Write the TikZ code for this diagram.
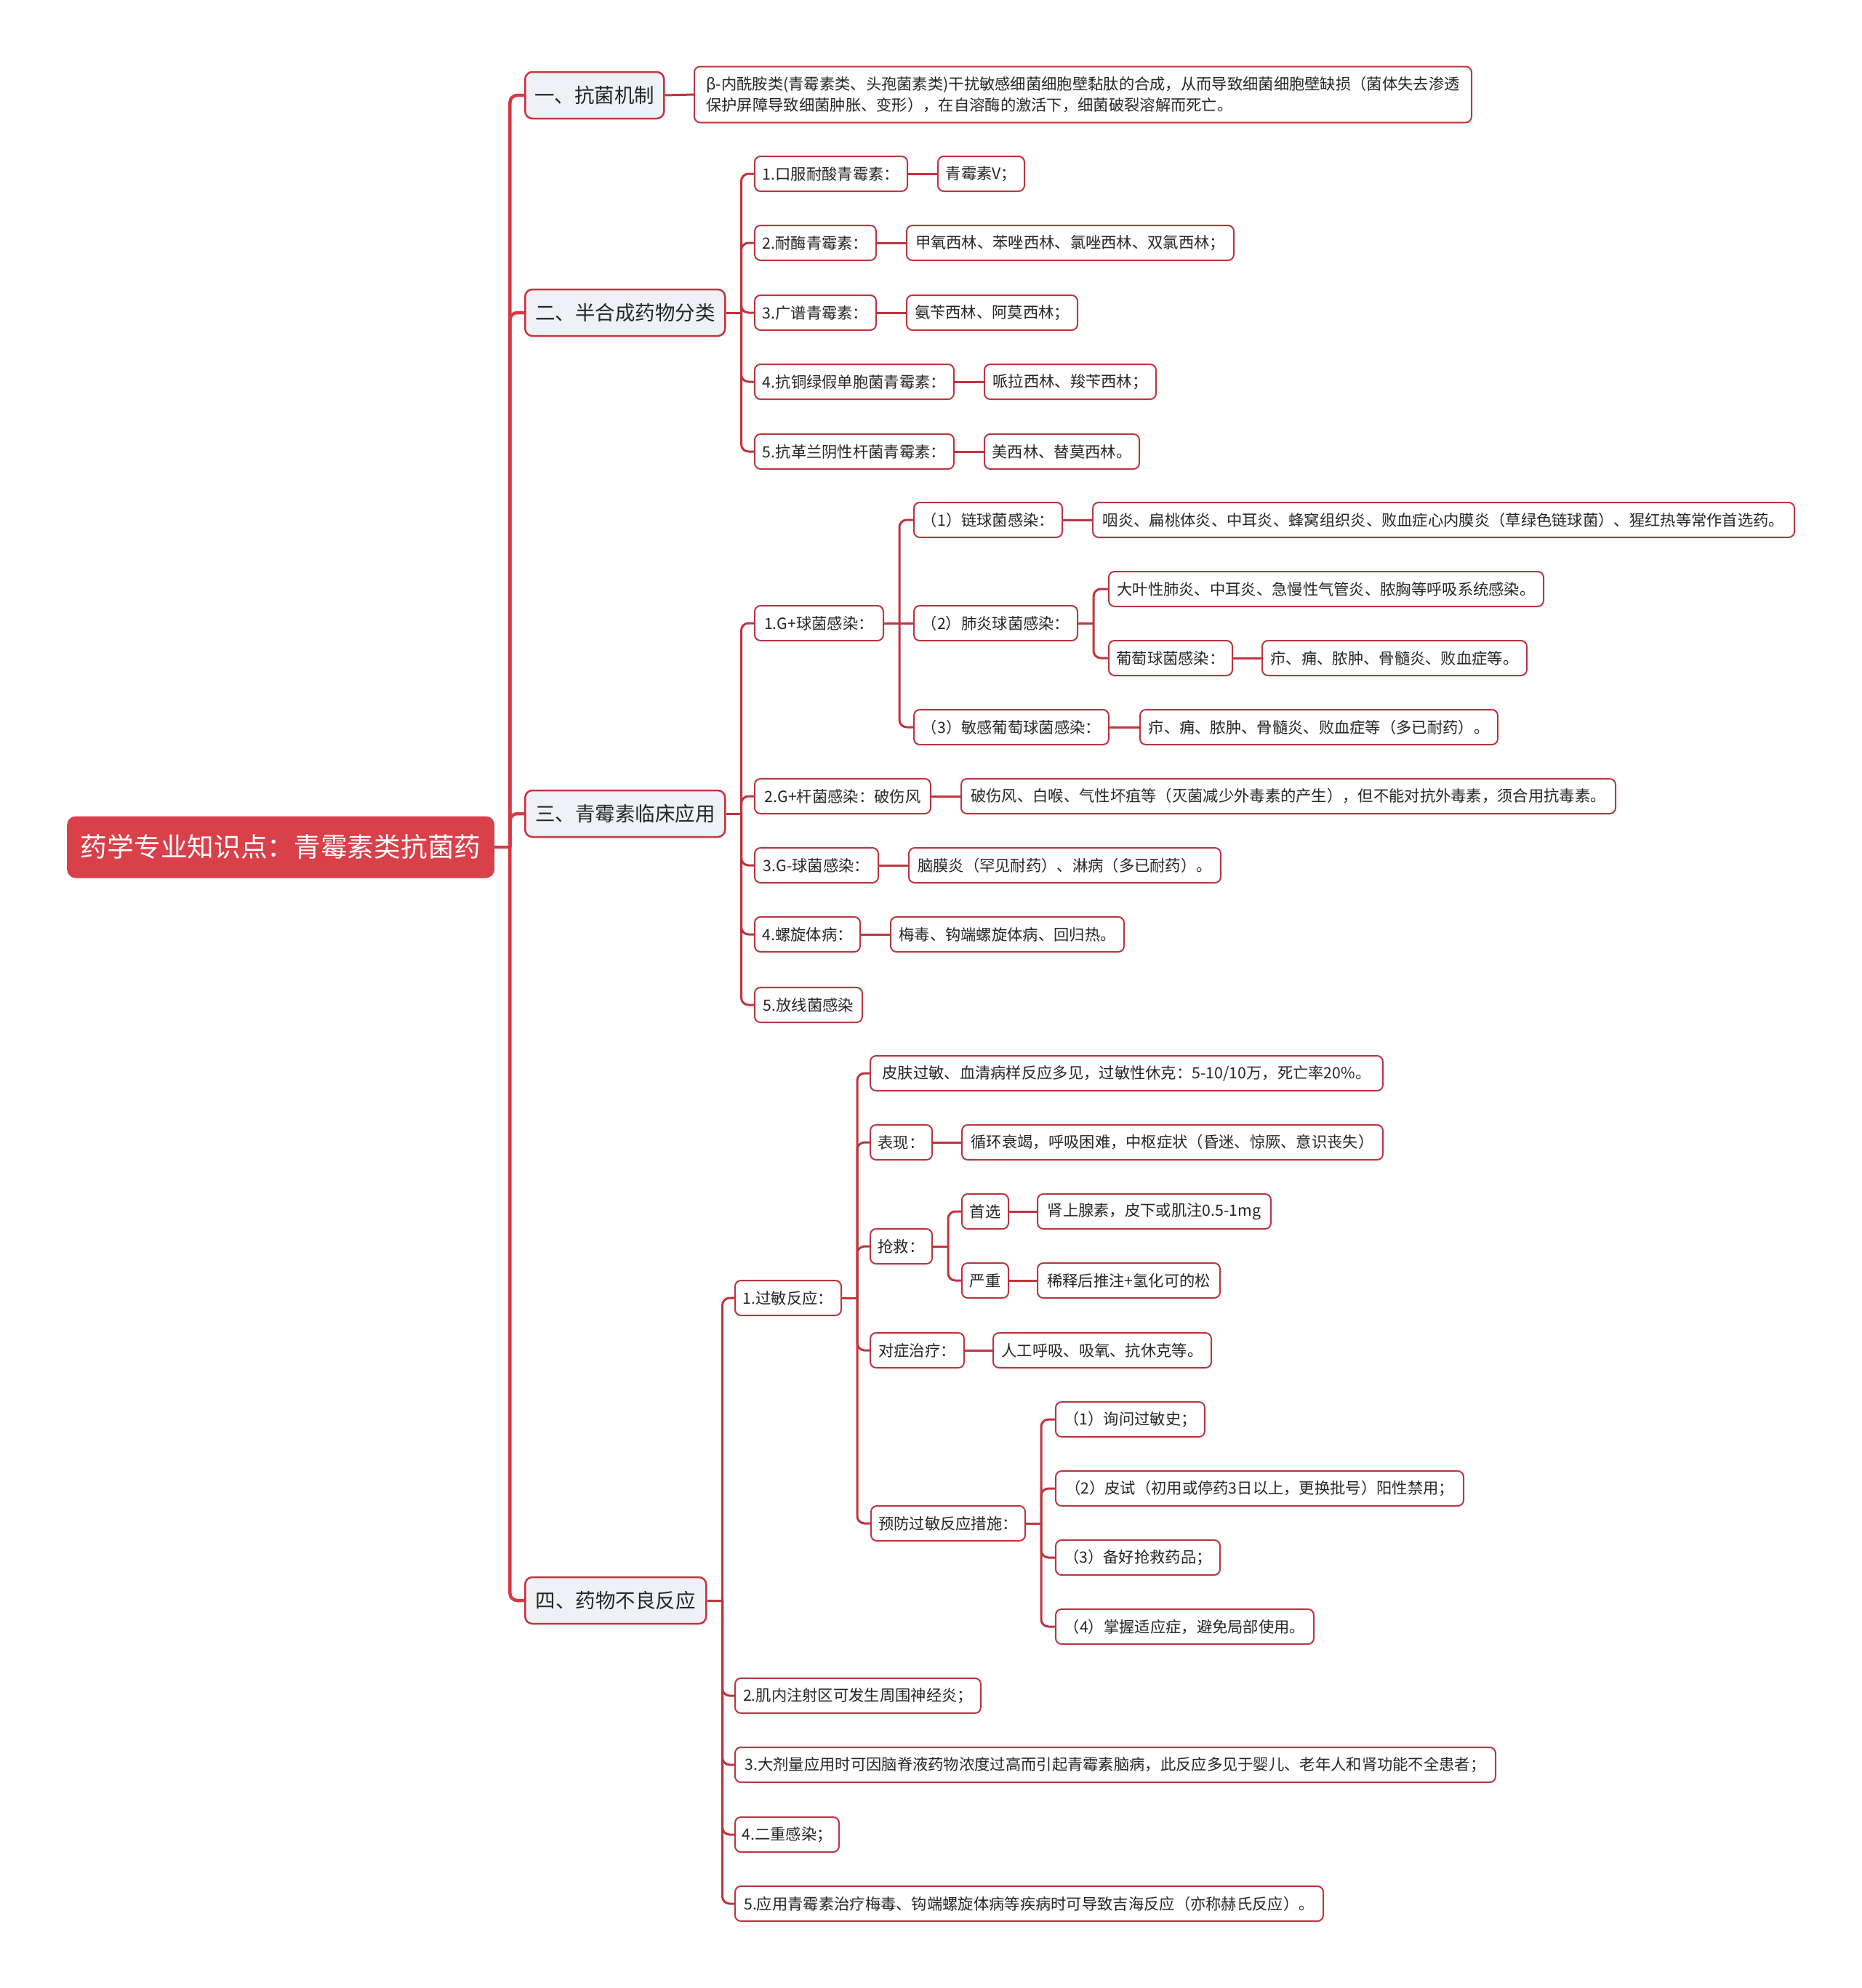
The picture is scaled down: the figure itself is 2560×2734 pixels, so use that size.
\documentclass[tikz,border=0pt]{standalone}
\usepackage{fontspec}
\setmainfont{Noto Sans CJK SC}
\usetikzlibrary{calc}
\definecolor{rootred}{HTML}{D9404A}
\definecolor{mainred}{HTML}{D63A45}
\definecolor{subred}{HTML}{C0343F}
\definecolor{leafbd}{HTML}{BC3540}
\definecolor{lonefill}{HTML}{EEF1F5}
\definecolor{lonebd}{HTML}{C8343F}
\definecolor{txt}{HTML}{262626}
\newcommand\lffont{\fontsize{21.3pt}{29pt}\selectfont}
\newcommand\lofont{\fontsize{27.5pt}{33pt}\selectfont}
\newcommand\rtfont{\fontsize{36.7pt}{44pt}\selectfont}
\newcommand\mmbranch[3]{%
  \coordinate (#2j) at ([xshift=21pt]#2.east);
  \draw[#1] (#2.east) -- (#2j);
  \foreach \ch in {#3}{\draw[#1,rounded corners=10pt] (#2j) |- (\ch.west);}
}
\tikzset{
  every node/.style={font=\lffont, text=txt},
  rootbox/.style={fill=rootred, rounded corners=12pt, minimum height=85pt, text=white, font=\rtfont, anchor=west, inner sep=0pt},
  lone/.style={draw=lonebd, line width=2.5pt, fill=lonefill, rounded corners=10pt, minimum height=64pt, font=\lofont, anchor=west, inner sep=0pt},
  leaf/.style={draw=leafbd, line width=2pt, fill=white, rounded corners=8pt, minimum height=48pt, anchor=west, inner sep=0pt},
  mainline/.style={draw=mainred, line width=4.5pt},
  subline/.style={draw=subred, line width=3pt},
}
\begin{document}
\begin{tikzpicture}[x=1pt,y=-1pt]
\useasboundingbox (0,0) rectangle (2560,2734);
% root and level 1
\node[rootbox, minimum width=588pt] (R) at (92,1165) {药学专业知识点：青霉素类抗菌药};
\node[lone, minimum width=191pt] (A) at (721,131) {一、抗菌机制};
\node[lone, minimum width=275pt] (B) at (721,430) {二、半合成药物分类};
\node[lone, minimum width=275pt] (C) at (721,1119) {三、青霉素临床应用};
\node[lone, minimum width=249pt] (D) at (721,2201) {四、药物不良反应};
% A
\node[leaf, minimum width=1069pt, minimum height=77pt, align=left] (A1) at (954,130) {β-内酰胺类(青霉素类、头孢菌素类)干扰敏感细菌细胞壁黏肽的合成，从而导致细菌细胞壁缺损（菌体失去渗透\\保护屏障导致细菌肿胀、变形），在自溶酶的激活下，细菌破裂溶解而死亡。};
% B
\node[leaf, minimum width=210pt] (B1) at (1037,239) {1.口服耐酸青霉素：};
\node[leaf, minimum width=119pt] (B1a) at (1289,239) {青霉素V；};
\node[leaf, minimum width=167pt] (B2) at (1037,334) {2.耐酶青霉素：};
\node[leaf, minimum width=450pt] (B2a) at (1246,334) {甲氧西林、苯唑西林、氯唑西林、双氯西林；};
\node[leaf, minimum width=167pt] (B3) at (1037,430) {3.广谱青霉素：};
\node[leaf, minimum width=235pt] (B3a) at (1246,430) {氨苄西林、阿莫西林；};
\node[leaf, minimum width=274pt] (B4) at (1037,525) {4.抗铜绿假单胞菌青霉素：};
\node[leaf, minimum width=236pt] (B4a) at (1353,525) {哌拉西林、羧苄西林；};
\node[leaf, minimum width=274pt] (B5) at (1037,621) {5.抗革兰阴性杆菌青霉素：};
\node[leaf, minimum width=213pt] (B5a) at (1353,621) {美西林、替莫西林。};
% C
\node[leaf, minimum width=177pt] (C1) at (1037,857) {1.G+球菌感染：};
\node[leaf, minimum width=204pt] (C1a) at (1256,715) {（1）链球菌感染：};
\node[leaf, minimum width=965pt] (C1a1) at (1502,715) {咽炎、扁桃体炎、中耳炎、蜂窝组织炎、败血症心内膜炎（草绿色链球菌）、猩红热等常作首选药。};
\node[leaf, minimum width=225pt] (C1b) at (1256,857) {（2）肺炎球菌感染：};
\node[leaf, minimum width=598pt] (C1b1) at (1524,810) {大叶性肺炎、中耳炎、急慢性气管炎、脓胸等呼吸系统感染。};
\node[leaf, minimum width=170pt] (C1b2) at (1524,905) {葡萄球菌感染：};
\node[leaf, minimum width=364pt] (C1b2a) at (1735,905) {疖、痈、脓肿、骨髓炎、败血症等。};
\node[leaf, minimum width=268pt] (C1c) at (1256,1000) {（3）敏感葡萄球菌感染：};
\node[leaf, minimum width=492pt] (C1c1) at (1567,1000) {疖、痈、脓肿、骨髓炎、败血症等（多已耐药）。};
\node[leaf, minimum width=242pt] (C2) at (1037,1095) {2.G+杆菌感染：破伤风};
\node[leaf, minimum width=900pt] (C2a) at (1321,1095) {破伤风、白喉、气性坏疽等（灭菌减少外毒素的产生），但不能对抗外毒素，须合用抗毒素。};
\node[leaf, minimum width=170pt] (C3) at (1037,1190) {3.G-球菌感染：};
\node[leaf, minimum width=429pt] (C3a) at (1249,1190) {脑膜炎（罕见耐药）、淋病（多已耐药）。};
\node[leaf, minimum width=145pt] (C4) at (1037,1285) {4.螺旋体病：};
\node[leaf, minimum width=321pt] (C4a) at (1224,1285) {梅毒、钩端螺旋体病、回归热。};
\node[leaf, minimum width=148pt] (C5) at (1037,1382) {5.放线菌感染};
% D
\node[leaf, minimum width=146pt] (D1) at (1010,1785) {1.过敏反应：};
\node[leaf, minimum width=705pt] (D1a) at (1196,1476) {皮肤过敏、血清病样反应多见，过敏性休克：5-10/10万，死亡率20\%。};
\node[leaf, minimum width=85pt] (D1b) at (1196,1571) {表现：};
\node[leaf, minimum width=579pt] (D1b1) at (1322,1571) {循环衰竭，呼吸困难，中枢症状（昏迷、惊厥、意识丧失）};
\node[leaf, minimum width=85pt] (D1c) at (1196,1714) {抢救：};
\node[leaf, minimum width=64pt] (D1c1) at (1322,1666) {首选};
\node[leaf, minimum width=321pt] (D1c1a) at (1426,1666) {肾上腺素，皮下或肌注0.5-1mg};
\node[leaf, minimum width=64pt] (D1c2) at (1322,1761) {严重};
\node[leaf, minimum width=251pt] (D1c2a) at (1426,1761) {稀释后推注+氢化可的松};
\node[leaf, minimum width=129pt] (D1d) at (1196,1857) {对症治疗：};
\node[leaf, minimum width=300pt] (D1d1) at (1365,1857) {人工呼吸、吸氧、抗休克等。};
\node[leaf, minimum width=212pt] (D1e) at (1197,2095) {预防过敏反应措施：};
\node[leaf, minimum width=205pt] (D1e1) at (1451,1952) {（1）询问过敏史；};
\node[leaf, minimum width=561pt] (D1e2) at (1451,2047) {（2）皮试（初用或停药3日以上，更换批号）阳性禁用；};
\node[leaf, minimum width=226pt] (D1e3) at (1451,2142) {（3）备好抢救药品；};
\node[leaf, minimum width=355pt] (D1e4) at (1451,2237) {（4）掌握适应症，避免局部使用。};
\node[leaf, minimum width=338pt] (D2) at (1010,2332) {2.肌内注射区可发生周围神经炎；};
\node[leaf, minimum width=1046pt] (D3) at (1010,2427) {3.大剂量应用时可因脑脊液药物浓度过高而引起青霉素脑病，此反应多见于婴儿、老年人和肾功能不全患者；};
\node[leaf, minimum width=143pt] (D4) at (1010,2523) {4.二重感染；};
\node[leaf, minimum width=809pt] (D5) at (1010,2618) {5.应用青霉素治疗梅毒、钩端螺旋体病等疾病时可导致吉海反应（亦称赫氏反应）。};
% connectors
\mmbranch{mainline}{R}{A,B,C,D}
\draw[subline] (A.east) -- (A1.west);
\mmbranch{subline}{B}{B1,B2,B3,B4,B5}
\draw[subline] (B1.east) -- (B1a.west);
\draw[subline] (B2.east) -- (B2a.west);
\draw[subline] (B3.east) -- (B3a.west);
\draw[subline] (B4.east) -- (B4a.west);
\draw[subline] (B5.east) -- (B5a.west);
\mmbranch{subline}{C}{C1,C2,C3,C4,C5}
\mmbranch{subline}{C1}{C1a,C1c}
\draw[subline] (C1j) -- (C1b.west);
\mmbranch{subline}{C1b}{C1b1,C1b2}
\draw[subline] (C1a.east) -- (C1a1.west);
\draw[subline] (C1b2.east) -- (C1b2a.west);
\draw[subline] (C1c.east) -- (C1c1.west);
\draw[subline] (C2.east) -- (C2a.west);
\draw[subline] (C3.east) -- (C3a.west);
\draw[subline] (C4.east) -- (C4a.west);
\mmbranch{subline}{D}{D1,D2,D3,D4,D5}
\mmbranch{subline}{D1}{D1a,D1b,D1c,D1d,D1e}
\draw[subline] (D1b.east) -- (D1b1.west);
\mmbranch{subline}{D1c}{D1c1,D1c2}
\draw[subline] (D1c1.east) -- (D1c1a.west);
\draw[subline] (D1c2.east) -- (D1c2a.west);
\draw[subline] (D1d.east) -- (D1d1.west);
\mmbranch{subline}{D1e}{D1e1,D1e2,D1e3,D1e4}
\end{tikzpicture}
\end{document}
